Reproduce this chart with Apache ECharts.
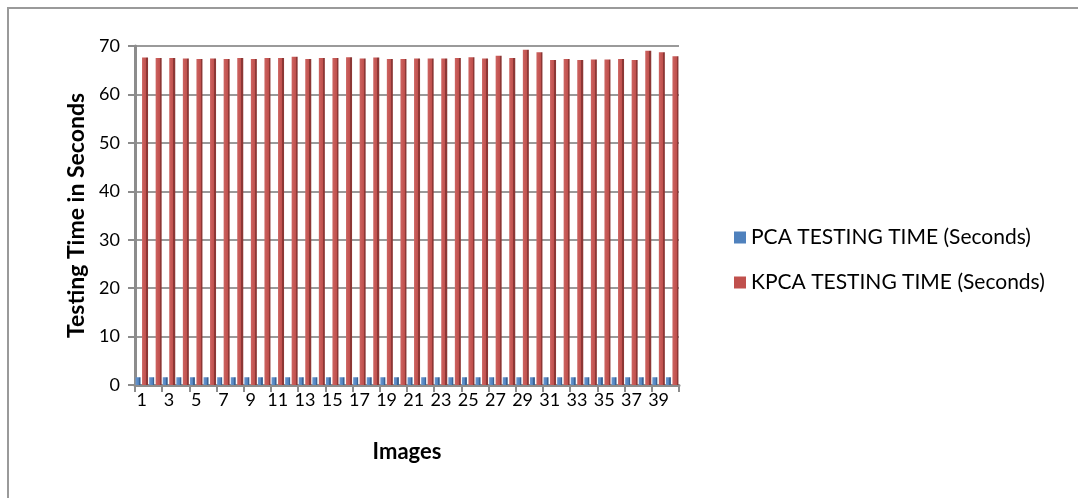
<!DOCTYPE html>
<html>
<head>
<meta charset="utf-8">
<script src="https://cdn.jsdelivr.net/npm/echarts@6/dist/echarts.min.js"></script>
<style>
html, body { margin: 0; padding: 0; background: #fff; }
#chart { width: 1078px; height: 498px; }
</style>
</head>
<body>
<div id="chart"></div>
<script>
var images = [];
for (var i = 1; i <= 40; i++) { images.push(String(i)); }

var pcaTime = [1.6, 1.6, 1.6, 1.6, 1.6, 1.6, 1.6, 1.6, 1.6, 1.6,
               1.6, 1.6, 1.6, 1.6, 1.6, 1.6, 1.6, 1.6, 1.6, 1.6,
               1.6, 1.6, 1.6, 1.6, 1.6, 1.6, 1.6, 1.6, 1.6, 1.6,
               1.6, 1.6, 1.6, 1.6, 1.6, 1.6, 1.6, 1.6, 1.6, 1.6];
var kpcaTime = [67.6, 67.5, 67.5, 67.4, 67.3, 67.4, 67.3, 67.5, 67.3, 67.5,
                67.5, 67.8, 67.3, 67.5, 67.5, 67.7, 67.4, 67.6, 67.3, 67.3,
                67.4, 67.4, 67.4, 67.5, 67.7, 67.4, 68.0, 67.5, 69.2, 68.7,
                67.1, 67.3, 67.1, 67.2, 67.2, 67.3, 67.1, 69.0, 68.7, 67.9];

var seriesNames = ['PCA TESTING TIME (Seconds)', 'KPCA TESTING TIME (Seconds)'];

function barFill(light, main, dark) {
    return new echarts.graphic.LinearGradient(0, 0, 1, 0, [
        {offset: 0, color: light},
        {offset: 0.68, color: main},
        {offset: 0.7, color: dark},
        {offset: 1, color: dark}
    ]);
}

var myChart = echarts.init(document.getElementById('chart'), null, {renderer: 'canvas'});
var font = 'Lato, "Open Sans", sans-serif';

option = {
    backgroundColor: '#fff',
    animation: false,
    textStyle: {fontFamily: font},
    graphic: [{
        type: 'rect',
        shape: {x: 8, y: 8, width: 1100, height: 520},
        style: {fill: 'none', stroke: '#9a9a9a', lineWidth: 2},
        silent: true
    }],
    legend: {
        orient: 'vertical',
        left: 729,
        top: 222,
        itemWidth: 12,
        itemHeight: 12,
        itemGap: 24,
        icon: 'rect',
        textStyle: {fontSize: 21, color: '#000', fontFamily: font},
        data: [
            {name: seriesNames[0], itemStyle: {color: '#4f81bd'}},
            {name: seriesNames[1], itemStyle: {color: '#c0504d'}}
        ]
    },
    grid: {left: 135, right: 399, top: 46, bottom: 113},
    xAxis: {
        type: 'category',
        data: images,
        name: 'Images',
        nameLocation: 'middle',
        nameGap: 56,
        nameTextStyle: {fontSize: 22, fontWeight: 'bold', color: '#000', fontFamily: font},
        axisLine: {lineStyle: {color: '#8c8c8c', width: 3}},
        axisTick: {show: true, length: 7, lineStyle: {color: '#8c8c8c', width: 2}},
        axisLabel: {interval: 1, fontSize: 18, color: '#000', margin: 6, fontFamily: font}
    },
    yAxis: {
        type: 'value',
        min: 0,
        max: 70,
        interval: 10,
        name: 'Testing Time in Seconds',
        nameLocation: 'middle',
        nameGap: 26,
        nameTextStyle: {fontSize: 23, fontWeight: 'bold', color: '#000', fontFamily: font},
        axisLine: {show: true, lineStyle: {color: '#8c8c8c', width: 3}},
        axisTick: {show: true, length: 7, lineStyle: {color: '#8c8c8c', width: 2}},
        axisLabel: {fontSize: 18, color: '#000', margin: 15, fontFamily: font},
        splitLine: {show: true, lineStyle: {color: '#9a9a9a', width: 2}}
    },
    series: [
        {
            name: seriesNames[0],
            type: 'bar',
            data: pcaTime,
            barWidth: 5,
            barGap: '30%',
            itemStyle: {color: barFill('#6a97cf', '#4f81bd', '#3a6394')}
        },
        {
            name: seriesNames[1],
            type: 'bar',
            data: kpcaTime,
            barWidth: 6,
            itemStyle: {color: barFill('#cd6461', '#c0504d', '#8d3735')}
        }
    ]
};
myChart.setOption(option);
</script>
</body>
</html>
